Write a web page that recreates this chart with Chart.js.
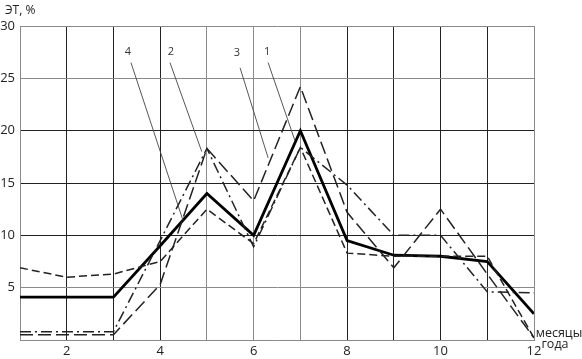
<!DOCTYPE html>
<html><head><meta charset="utf-8">
<script src="https://cdn.jsdelivr.net/npm/chart.js@4"></script>
<style>html,body{margin:0;padding:0;background:#fff}#wrap{width:582px;height:359px;position:relative}</style>
</head><body><div id="wrap"><canvas id="c"></canvas></div>
<script>
// Months of the year
const months = [1,2,3,4,5,6,7,8,9,10,11,12];
// Series (ЭТ, %)
const series1 = [4.1,4.1,4.1,9.0,14.0,10.0,20.0,9.5,8.1,8.0,7.5,2.5];   // solid thick
const series2 = [0.8,0.8,0.8,9.5,18.3,8.9,18.4,14.8,10.0,10.0,4.6,4.5]; // dash-dot
const series3 = [0.5,0.5,0.5,5.3,18.3,13.3,24.2,12.2,6.9,12.5,6.3,0.2]; // long dash
const series4 = [6.9,6.0,6.3,7.5,12.5,9.2,18.4,8.3,8.0,8.0,8.0,0.2];    // dashed
// Tick labels
const yTickLabels = [5,10,15,20,25,30];
const xTickLabels = [2,4,6,8,10,12];
// Curve number annotations (data coordinates)
const annoNames = ['4','2','3','1'];
const annoTextX = [3.31,4.23,5.64,6.29];
const annoTextY = [27.5,27.5,27.4,27.5];
const annoFromX = [3.375,4.21,5.71,6.31];
const annoFromY = [26.5,26.5,26.0,26.5];
const annoToX = [4.49,4.89,6.31,6.88];
const annoToY = [11.4,18.0,17.4,19.1];

const FONT = "'Open Sans', 'Liberation Sans', sans-serif";

const annoPlugin = {
  id: 'anno',
  afterDatasetsDraw(chart) {
    const {ctx, scales: {x, y}, chartArea} = chart;
    ctx.save();
    ctx.strokeStyle = '#444';
    ctx.lineWidth = 0.9;
    ctx.fillStyle = '#333';
    ctx.font = "11px " + FONT;
    ctx.textAlign = 'center';
    ctx.textBaseline = 'middle';
    for (let i = 0; i < annoNames.length; i++) {
      ctx.beginPath();
      ctx.moveTo(x.getPixelForValue(annoFromX[i]), y.getPixelForValue(annoFromY[i]));
      ctx.lineTo(x.getPixelForValue(annoToX[i]), y.getPixelForValue(annoToY[i]));
      ctx.stroke();
      ctx.fillText(annoNames[i], x.getPixelForValue(annoTextX[i]), y.getPixelForValue(annoTextY[i]));
    }
    // axis titles
    ctx.fillStyle = '#222';
    ctx.font = "12px " + FONT;
    ctx.textAlign = 'left';
    ctx.fillText('ЭТ, %', chartArea.left - 15, chartArea.top - 15);
    ctx.font = "12.5px " + FONT;
    ctx.textAlign = 'center';
    ctx.fillText('месяцы', chartArea.right + 25, chartArea.bottom - 7);
    ctx.fillText('года', chartArea.right + 21, chartArea.bottom + 4);
    ctx.restore();
  }
};

const grayV = [1,5,6,7,12];
const grayH = [0,5,25,30];
new Chart(document.getElementById('c'), {
  type: 'line',
  data: {
    datasets: [
      {label:'4', data: months.map((m,i)=>({x:m,y:series4[i]})), borderColor:'#222', borderWidth:1.5, borderDash:[8,4]},
      {label:'3', data: months.map((m,i)=>({x:m,y:series3[i]})), borderColor:'#222', borderWidth:1.5, borderDash:[13,5]},
      {label:'2', data: months.map((m,i)=>({x:m,y:series2[i]})), borderColor:'#222', borderWidth:1.5, borderDash:[11,4,2,4]},
      {label:'1', data: months.map((m,i)=>({x:m,y:series1[i]})), borderColor:'#000', borderWidth:2.8}
    ]
  },
  options: {
    responsive: true,
    maintainAspectRatio: false,
    animation: false,
    layout: {padding: {top: 26, right: 48, left: 0, bottom: 0}},
    elements: {point: {radius: 0}, line: {tension: 0}},
    plugins: {legend: {display: false}, tooltip: {enabled: false}},
    scales: {
      x: {
        type: 'linear', min: 1, max: 12,
        afterFit: s => { s.height = 19; },
        afterBuildTicks: s => { s.ticks = months.map(v => ({value: v})); },
        grid: {
          drawTicks: false,
          lineWidth: 1,
          color: c => grayV.includes(c.tick && c.tick.value) ? '#8a8a8a' : '#222'
        },
        border: {display: true, color: '#8a8a8a', width: 1},
        ticks: {
          padding: 3,
          autoSkip: false,
          maxRotation: 0,
          color: '#222',
          font: {family: FONT, size: 13},
          callback: v => xTickLabels.includes(v) ? String(v) : ''
        }
      },
      y: {
        min: 0, max: 30,
        afterFit: s => { s.width = 20; },
        afterBuildTicks: s => { s.ticks = [0].concat(yTickLabels).map(v => ({value: v})); },
        grid: {
          drawTicks: false,
          lineWidth: 1,
          color: c => (c.tick && grayH.includes(c.tick.value)) ? '#8a8a8a' : '#222'
        },
        border: {display: true, color: '#8a8a8a', width: 1},
        ticks: {
          padding: 5,
          color: '#222',
          font: {family: FONT, size: 13},
          callback: v => yTickLabels.includes(v) ? String(v) : ''
        }
      }
    }
  },
  plugins: [annoPlugin]
});
</script>
</body></html>
